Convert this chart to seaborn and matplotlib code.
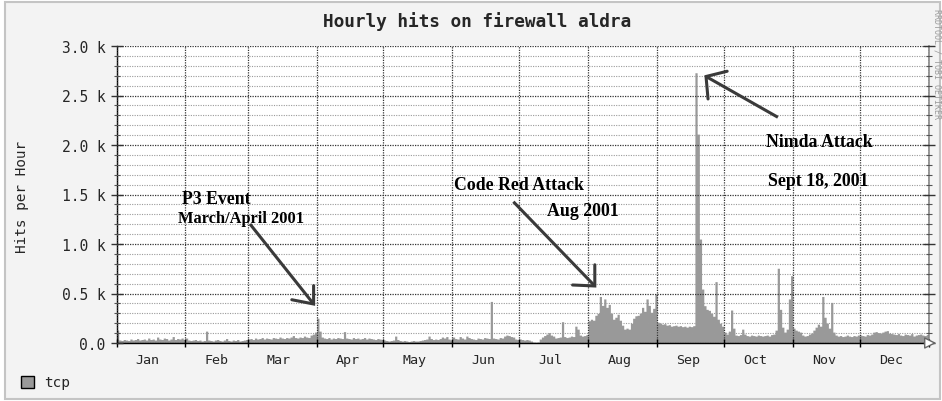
import numpy as np
import pandas as pd
import matplotlib
matplotlib.use("Agg")
import matplotlib.pyplot as plt
from matplotlib.patches import Rectangle, Patch
from matplotlib.ticker import MultipleLocator
import seaborn as sns

# ---- data: daily hits per hour on the firewall, 2001 ----
months = ["Jan", "Feb", "Mar", "Apr", "May", "Jun",
          "Jul", "Aug", "Sep", "Oct", "Nov", "Dec"]
month_days = [31, 28, 31, 30, 31, 30, 31, 31, 30, 31, 30, 31]

jan = [130, 30, 25, 35, 30, 25, 40, 30, 35, 45, 30, 35, 40, 30, 50, 35,
       40, 30, 60, 40, 35, 50, 45, 30, 40, 65, 35, 45, 40, 50, 35]
feb = [50, 30, 25, 30, 35, 25, 30, 20, 25, 120, 30, 25, 20, 30, 35, 25,
       20, 30, 45, 25, 20, 30, 25, 35, 20, 25, 30, 35]
mar = [40, 45, 35, 50, 40, 45, 55, 40, 50, 45, 40, 55, 50, 45, 60, 50,
       45, 55, 50, 60, 75, 55, 50, 60, 55, 70, 60, 55, 80, 90, 110]
apr = [250, 120, 60, 50, 45, 55, 40, 50, 45, 55, 50, 45, 115, 50, 45,
       40, 55, 45, 50, 40, 45, 55, 40, 50, 45, 40, 35, 45, 40, 35]
may = [30, 25, 20, 25, 30, 70, 35, 25, 20, 25, 20, 15, 20, 25, 20, 20,
       25, 30, 35, 40, 70, 45, 35, 40, 35, 45, 60, 50, 65, 40, 30]
jun = [60, 45, 40, 65, 50, 40, 70, 55, 45, 40, 35, 50, 45, 40, 55, 50,
       45, 420, 50, 45, 40, 55, 50, 70, 80, 75, 65, 60, 40, 35]
jul = [40, 35, 30, 35, 30, 20, 10, 8, 10, 40, 60, 75, 90, 105, 80, 70,
       50, 55, 60, 215, 65, 55, 60, 70, 65, 170, 140, 80, 70, 75, 85]
aug = [225, 240, 230, 280, 300, 470, 380, 445, 360, 390, 300, 240, 260,
       290, 230, 180, 140, 150, 140, 200, 250, 275, 280, 300, 360, 320,
       445, 380, 310, 350, 495]
sep = [210, 200, 190, 195, 180, 185, 170, 175, 180, 170, 175, 165, 170,
       160, 170, 165, 175, 2730, 2110, 1050, 545, 377, 340, 330, 300,
       270, 620, 240, 200, 170]
oct_ = [110, 90, 120, 333, 150, 80, 75, 85, 140, 90, 75, 70, 80, 75, 70,
        80, 75, 70, 75, 80, 70, 85, 90, 130, 755, 340, 160, 110, 140,
        445, 680]
nov = [150, 130, 120, 110, 80, 70, 75, 90, 100, 130, 160, 190, 170, 470,
       260, 200, 150, 410, 110, 80, 70, 75, 65, 70, 80, 70, 65, 75, 70, 80]
dec = [80, 75, 70, 85, 80, 90, 110, 115, 105, 100, 110, 120, 125, 100,
       95, 90, 85, 95, 80, 75, 90, 85, 80, 95, 70, 80, 85, 90, 80, 75, 85]

hits = jan + feb + mar + apr + may + jun + jul + aug + sep + oct_ + nov + dec

y_ticks = [0, 500, 1000, 1500, 2000, 2500, 3000]
y_tick_labels = ["0.0", "0.5 k", "1.0 k", "1.5 k", "2.0 k", "2.5 k", "3.0 k"]

# ---- style ----
sns.set_theme(style="ticks")
plt.rcParams["font.family"] = ["DejaVu Sans Mono", "DejaVu Sans"]

W, H = 942, 402
fig = plt.figure(figsize=(W / 100, H / 100), dpi=100)
fig.patch.set_facecolor("white")
fig.add_artist(Rectangle((5 / W, 2 / H), 935 / W, 397 / H,
                         transform=fig.transFigure, facecolor="#f3f3f3",
                         edgecolor="#c4c4c4", lw=1.5, zorder=0))

ax = fig.add_axes([116.5 / W, 1 - 344 / H, (928.5 - 116.5) / W, (344 - 47) / H])
ax.set_facecolor("white")

n_days = len(hits)
df = pd.DataFrame({"day": np.arange(n_days) + 0.5, "hits": hits})
sns.histplot(data=df, x="day", weights="hits", binwidth=1,
             binrange=(0, n_days), element="step", fill=True,
             color="#999999", alpha=1, linewidth=0, ax=ax, zorder=1)

# ---- axes and grid ----
bounds = np.concatenate([[0], np.cumsum(month_days)])
ax.set_xlim(0, bounds[-1])
ax.set_ylim(0, 3000)
ax.set_xlabel("")
ax.set_ylabel("")

ax.set_xticks(bounds)
ax.set_xticklabels([""] * len(bounds))
ax.set_xticks(bounds[:-1] + 14, minor=True)
ax.set_xticklabels(months, minor=True, fontsize=9.6)
ax.tick_params(axis="x", which="minor", length=0, pad=7)
ax.tick_params(axis="x", which="major", direction="inout", length=6,
               width=1, color="black")

ax.set_yticks(y_ticks)
ax.set_yticklabels(y_tick_labels, fontsize=10.5)
ax.yaxis.set_minor_locator(MultipleLocator(100))
ax.tick_params(axis="y", which="major", direction="inout", length=8,
               width=1, color="#333333", right=True, pad=4)
ax.tick_params(axis="y", which="minor", direction="inout", length=4,
               width=0.8, color="#555555", right=True)

ax.set_axisbelow(False)
ax.grid(axis="y", which="minor", color="#9a9a9a", linestyle=(0, (1, 1.2)),
        linewidth=0.8, zorder=2)
ax.grid(axis="y", which="major", color="#333333", linestyle=(0, (1, 1)),
        linewidth=0.9, zorder=2)
ax.grid(axis="x", which="major", color="#333333", linestyle=(0, (1, 1)),
        linewidth=0.9, zorder=2)

for side in ["left", "bottom"]:
    ax.spines[side].set_color("black")
    ax.spines[side].set_linewidth(1)
ax.spines["top"].set_visible(False)
ax.spines["right"].set_color("#8a8a8a")
ax.spines["right"].set_linewidth(1.2)

# arrow at the end of the time axis
ax.annotate("", xy=(1.013, 0), xycoords="axes fraction",
            xytext=(0.998, 0), textcoords="axes fraction",
            arrowprops=dict(arrowstyle="-|>,head_length=0.6,head_width=0.3",
                            fc="white", ec="#666666", lw=1), annotation_clip=False)

# ---- titles and labels ----
fig.text(477 / W, 1 - 22 / H, "Hourly hits on firewall aldra",
         ha="center", va="center", fontsize=12.8, fontweight="bold")
fig.text(22.5 / W, 1 - 197 / H, "Hits per Hour", rotation=90,
         ha="center", va="center", fontsize=10.4)
fig.text(937.5 / W, 1 - 9 / H, "RRDTOOL / TOBI OETIKER", rotation=270,
         ha="center", va="top", fontsize=6.0, color="#9c9c9c")

fig.legend(handles=[Patch(facecolor="#999999", edgecolor="black",
                          linewidth=1, label="tcp")],
           loc="center left", bbox_to_anchor=(21 / W, 1 - 383.5 / H),
           frameon=False, fontsize=10.4, handlelength=0.9, handleheight=0.9,
           handletextpad=0.7, borderpad=0, borderaxespad=0)

# ---- event annotations ----
ink = "#3a3a3a"
serif = ["Liberation Serif", "DejaVu Serif"]


def event(lines, start, tip, head_a, head_b):
    for txt, (x, y), size in lines:
        ax.text(x, y, txt, family=serif, fontweight="bold", fontsize=size,
                ha="left", va="center", color="black", zorder=5)
    ax.plot([start[0], tip[0]], [start[1], tip[1]], color=ink, lw=2.2,
            solid_capstyle="butt", clip_on=False, zorder=5)
    ax.plot([head_a[0], tip[0], head_b[0]], [head_a[1], tip[1], head_b[1]],
            color=ink, lw=2.2, solid_joinstyle="miter", clip_on=False, zorder=5)


event([("P3 Event", (29.3, 1455), 12.8),
       ("March/April 2001", (27.6, 1263), 11.8)],
      start=(60.0, 1202), tip=(88.6, 394),
      head_a=(88.6, 580), head_b=(78.8, 437))

event([("Code Red Attack", (151.5, 1606), 12.8),
       ("Aug 2001", (193.4, 1343), 12.8)],
      start=(178.4, 1427), tip=(215.0, 576),
      head_a=(215.0, 790), head_b=(205.0, 586))

event([("Nimda Attack", (292.0, 2040), 12.8),
       ("Sept 18, 2001", (292.8, 1646), 12.8)],
      start=(297.3, 2280), tip=(265.0, 2692),
      head_a=(265.9, 2465), head_b=(274.5, 2745))

fig.savefig("out.png", dpi=100, facecolor=fig.get_facecolor())
